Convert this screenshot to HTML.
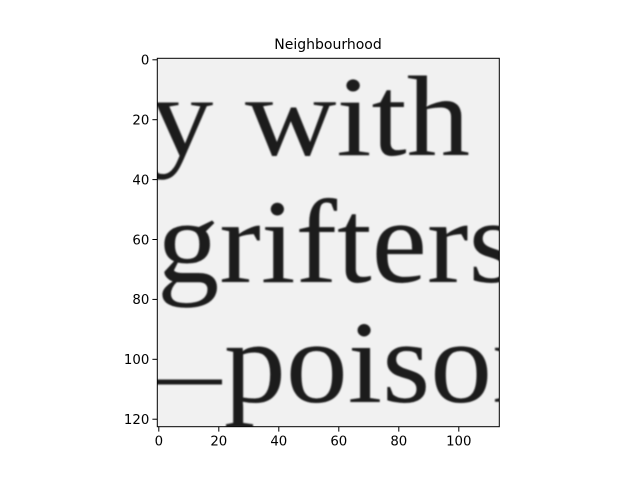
<!DOCTYPE html>
<html><head><meta charset="utf-8"><style>
html,body{margin:0;padding:0;background:#fff;}
svg{display:block;font-family:"DejaVu Sans","Liberation Sans",sans-serif;}
</style></head><body>
<svg width="640" height="480" viewBox="0 0 640 480">
<defs>
<clipPath id="ax"><rect x="157.3" y="58.3" width="342" height="368.4"/></clipPath>
<filter id="bl"><feGaussianBlur stdDeviation="0.9"/></filter>
</defs>
<text x="328" y="49" text-anchor="middle" font-size="14" fill="#000">Neighbourhood</text>
<g clip-path="url(#ax)">
<rect x="157.3" y="58.3" width="342" height="368.4" fill="#f1f1f1"/>
<g filter="url(#bl)" fill="#1c1c1c" font-family="'Liberation Serif',serif">
<text x="150" y="155" font-size="114" textLength="320" lengthAdjust="spacingAndGlyphs">y with</text>
<text x="157" y="282" font-size="120" textLength="360" lengthAdjust="spacingAndGlyphs">grifters</text>
<rect x="150" y="379.5" width="72" height="5"/>
<text x="224" y="402" font-size="118" textLength="330" lengthAdjust="spacingAndGlyphs">poison</text>
</g>
</g>
<rect x="157.3" y="58.3" width="342" height="368.4" fill="none" stroke="#000" stroke-width="1"/>
<g id="ticks" font-size="13.3" fill="#000"></g>
<script>
const xTicks=[0,20,40,60,80,100];
const yTicks=[0,20,40,60,80,100,120];
const nCols=114, nRows=123;
const L=157.3,T=58.3,W=342,H=368.4;
const xs=v=>L+(v+0.5)*W/nCols;
const ys=v=>T+(v+0.5)*H/nRows;
const g=document.getElementById('ticks');
const NS='http://www.w3.org/2000/svg';
xTicks.forEach(v=>{
 const l=document.createElementNS(NS,'line');
 l.setAttribute('x1',xs(v));l.setAttribute('x2',xs(v));l.setAttribute('y1',T+H);l.setAttribute('y2',T+H+4.9);l.setAttribute('stroke','#000');
 
 
 g.appendChild(l);
 const t=document.createElementNS(NS,'text');
 t.setAttribute('x',xs(v));t.setAttribute('y',T+H+19);t.setAttribute('text-anchor','middle');t.textContent=v;
 
 
 g.appendChild(t);
});
yTicks.forEach(v=>{
 const l=document.createElementNS(NS,'line');
 l.setAttribute('x1',L-4.9);l.setAttribute('x2',L);l.setAttribute('y1',ys(v));l.setAttribute('y2',ys(v));l.setAttribute('stroke','#000');
 
 
 g.appendChild(l);
 const t=document.createElementNS(NS,'text');
 t.setAttribute('x',L-8);t.setAttribute('y',ys(v)+4.8);t.setAttribute('text-anchor','end');t.textContent=v;
 
 
 g.appendChild(t);
});
</script>
</svg>
</body></html>
